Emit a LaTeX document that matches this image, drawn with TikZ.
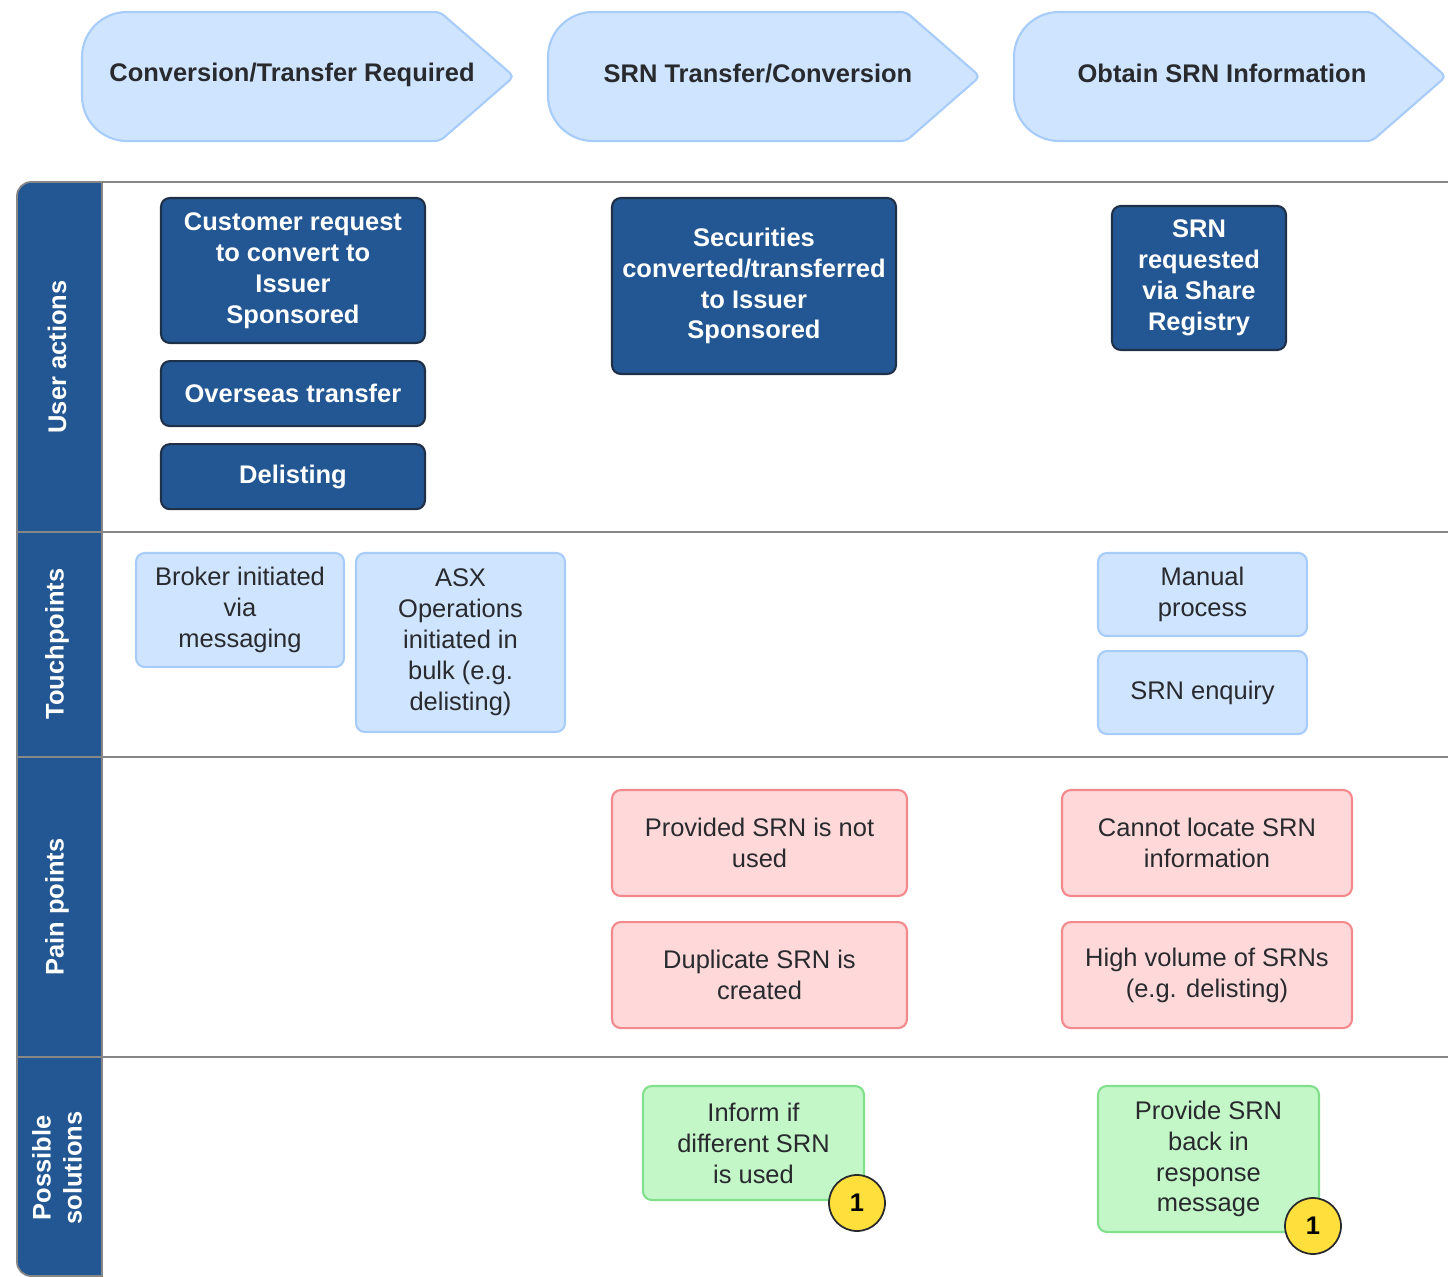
\documentclass[tikz,border=0pt]{standalone}
\usepackage{fontspec}
\setmainfont{Liberation Sans}
\usetikzlibrary{positioning}

\definecolor{actionblue}{RGB}{35,87,147}
\definecolor{actionline}{RGB}{32,48,72}
\definecolor{touchfill}{RGB}{207,228,255}
\definecolor{touchline}{RGB}{168,204,250}
\definecolor{painfill}{RGB}{255,217,218}
\definecolor{painline}{RGB}{243,137,140}
\definecolor{fixfill}{RGB}{196,247,200}
\definecolor{fixline}{RGB}{128,224,140}
\definecolor{badgefill}{RGB}{255,223,60}
\definecolor{gridgray}{RGB}{135,135,135}
\definecolor{inkgray}{RGB}{40,42,46}

\begin{document}
\begin{tikzpicture}[x=0.02cm, y=-0.02cm,
      every node/.style={font=\fontsize{14.5}{17.6}\selectfont, align=center,
                         inner sep=2pt, text=inkgray},
      phase/.style={draw=touchline, fill=touchfill, line width=1.2pt},
      phasetext/.style={font=\fontsize{14.5}{17.6}\selectfont\bfseries},
      lanecol/.style={fill=actionblue, draw=gridgray, line width=1pt},
      lanetitle/.style={rotate=90, text=white,
                        font=\fontsize{14.5}{17.6}\selectfont\bfseries},
      gridline/.style={draw=gridgray, line width=1pt},
      box/.style={rounded corners=5pt, line width=1.2pt},
      action/.style={box, draw=actionline, fill=actionblue, text=white,
                     font=\fontsize{14.5}{17.6}\selectfont\bfseries,
                     minimum width=5.28cm},
      touch/.style={box, draw=touchline, fill=touchfill, minimum width=4.18cm},
      pain/.style={box, draw=painline, fill=painfill, minimum height=2.12cm},
      fix/.style={box, draw=fixline, fill=fixfill, minimum width=4.42cm},
      badge/.style={circle, draw=inkgray, fill=badgefill, line width=1pt,
                    minimum size=1.12cm, inner sep=0pt, text=black,
                    font=\fontsize{14.5}{17.6}\selectfont\bfseries},
  ]
    \useasboundingbox (0,0) rectangle (1448,1277);

    %% --- phase chevrons along the top ---
    \draw[phase] (300,12) [rounded corners=3pt] -- (440,12) -- (514,76.5) -- (440,141)
      [rounded corners=0.9cm] -- (82,141) -- (82,12) -- cycle;
    \draw[phase] (766,12) [rounded corners=3pt] -- (906,12) -- (980,76.5) -- (906,141)
      [rounded corners=0.9cm] -- (548,141) -- (548,12) -- cycle;
    \draw[phase] (1231,12) [rounded corners=3pt] -- (1372,12) -- (1446,76.5) -- (1372,141)
      [rounded corners=0.9cm] -- (1014,141) -- (1014,12) -- cycle;
    \node[phasetext] (phconv)  at (292,75)  {Conversion/Transfer Required};
    \node[phasetext] (phsrn)   at (758,74)  {SRN Transfer/Conversion};
    \node[phasetext] (phobtain) at (1222,73) {Obtain SRN Information};

    %% --- swimlane frame ---
    \path[lanecol] (60,182) [rounded corners=8pt] -- (17,182) -- (17,1276) -- (60,1276)
      [sharp corners] -- (102,1276) -- (102,182) -- cycle;
    \draw[gridline] (102,182) -- (1448,182);
    \draw[gridline] (17,532) -- (1448,532);
    \draw[gridline] (17,757) -- (1448,757);
    \draw[gridline] (17,1057) -- (1448,1057);
    \draw[gridline] (102,182) -- (102,1277);

    \node[lanetitle] (lnuser)  at (57,357)  {User actions};
    \node[lanetitle] (lntouch) at (57,644)  {Touchpoints};
    \node[lanetitle] (lnpain)  at (57,907)  {Pain points};
    \node[lanetitle] (lnfix)   at (57,1168) {Possible\\solutions};

    %% --- user actions ---
    \node[action, minimum height=2.9cm] (custreq) at (293,270.5)
      {Customer request\\to convert to\\Issuer\\Sponsored};
    \node[action, minimum height=1.3cm, below=0.32cm of custreq] (overseas) {Overseas transfer};
    \node[action, minimum height=1.3cm, below=0.32cm of overseas] (delist) {Delisting};
    \node[action, minimum width=5.68cm, minimum height=3.52cm] (secconv) at (754,286)
      {Securities\\converted/transferred\\to Issuer\\Sponsored};
    \node[action, minimum width=3.48cm, minimum height=2.88cm] (srnreq) at (1199,278)
      {SRN\\requested\\via Share\\Registry};

    %% --- touchpoints ---
    \node[touch, minimum width=4.16cm, minimum height=2.28cm] (broker) at (240,610)
      {Broker initiated\\via\\messaging};
    \node[touch, minimum height=3.58cm] (asxops) at (460.5,642.5)
      {ASX\\Operations\\initiated in\\bulk (e.g.\\delisting)};
    \node[touch, minimum height=1.66cm] (manual) at (1202.5,594.5) {Manual\\process};
    \node[touch, minimum height=1.66cm, below=0.26cm of manual] (enquiry) {SRN enquiry};

    %% --- pain points ---
    \node[pain, minimum width=5.9cm] (notused) at (759.5,843) {Provided SRN is not\\used};
    \node[pain, minimum width=5.9cm, below=0.48cm of notused] (dupsrn)
      {Duplicate SRN is\\created};
    \node[pain, minimum width=5.8cm] (nolocate) at (1207,843)
      {Cannot locate SRN\\information};
    \node[pain, minimum width=5.8cm, below=0.48cm of nolocate] (hivolume)
      {High volume of SRNs\\(e.g. delisting)};

    %% --- possible solutions ---
    \node[fix, minimum height=2.28cm] (inform) at (753.5,1143)
      {Inform if\\different SRN\\is used};
    \node[fix, minimum height=2.92cm] (provide) at (1208.5,1159)
      {Provide SRN\\back in\\response\\message};
    \node[badge] (badgeinf) at (857,1203)  {1};
    \node[badge] (badgepro) at (1313,1226) {1};
\end{tikzpicture}
\end{document}
